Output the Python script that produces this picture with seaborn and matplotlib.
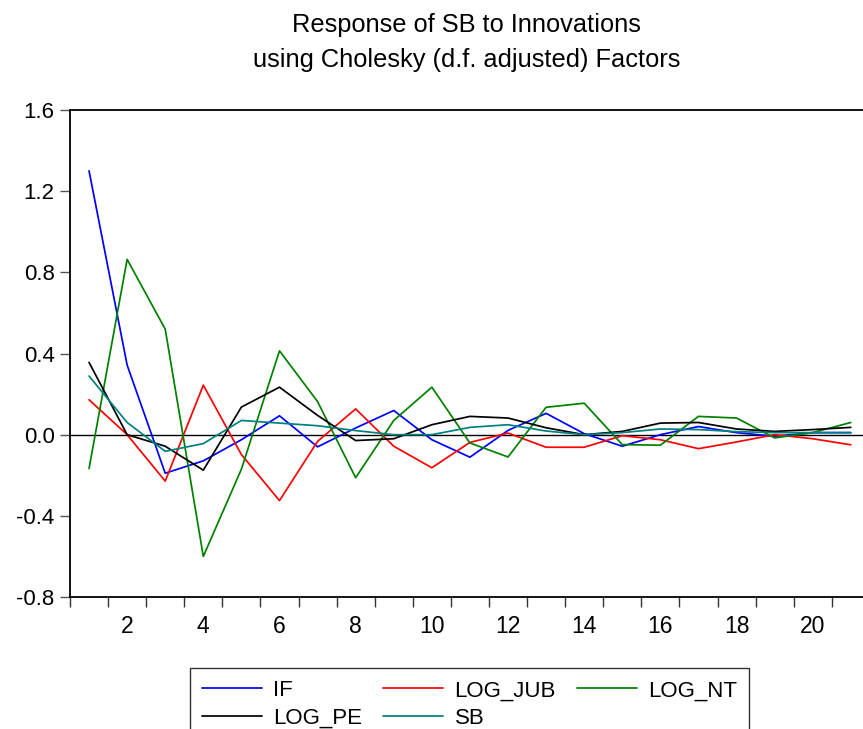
import matplotlib
matplotlib.use("Agg")
import matplotlib.pyplot as plt
import seaborn as sns
import pandas as pd
from matplotlib.lines import Line2D

periods = list(range(1, 22))
if_vals = [1.30, 0.343, -0.19, -0.129, -0.025, 0.093, -0.06, 0.033, 0.119, -0.025,
           -0.111, 0.021, 0.105, 0.005, -0.057, 0.0, 0.04, 0.01, -0.008, 0.01, 0.01]
log_jub = [0.172, 0.0, -0.229, 0.244, -0.098, -0.325, -0.033, 0.127, -0.057, -0.163,
           -0.038, 0.008, -0.062, -0.062, -0.005, -0.025, -0.069, -0.036, 0.0, -0.02, -0.05]
log_nt = [-0.167, 0.864, 0.52, -0.60, -0.17, 0.413, 0.163, -0.212, 0.07, 0.234,
          -0.041, -0.11, 0.135, 0.155, -0.049, -0.052, 0.09, 0.082, -0.016, 0.01, 0.06]
log_pe = [0.356, 0.0, -0.057, -0.175, 0.136, 0.234, 0.095, -0.029, -0.02, 0.049,
          0.09, 0.082, 0.034, 0.0, 0.016, 0.057, 0.06, 0.028, 0.016, 0.025, 0.036]
sb = [0.289, 0.06, -0.082, -0.044, 0.07, 0.057, 0.044, 0.02, 0.0, 0.0,
      0.036, 0.049, 0.018, 0.0, 0.01, 0.028, 0.025, 0.015, 0.01, 0.01, 0.01]

series_names = ["IF", "LOG_JUB", "LOG_NT", "LOG_PE", "SB"]
series_vals = [if_vals, log_jub, log_nt, log_pe, sb]
colors = {"IF": "#0000FF", "LOG_JUB": "#FF0000", "LOG_NT": "#008000",
          "LOG_PE": "#000000", "SB": "#008080"}
y_ticks = [-0.8, -0.4, 0.0, 0.4, 0.8, 1.2, 1.6]
x_labels = [2, 4, 6, 8, 10, 12, 14, 16, 18, 20]
title_lines = ["Response of SB to Innovations",
               "using Cholesky (d.f. adjusted) Factors"]

rows = []
for name, vals in zip(series_names, series_vals):
    for p, v in zip(periods, vals):
        rows.append({"period": p, "value": v, "series": name})
df = pd.DataFrame(rows)

sns.set_theme(style="white")
plt.rcParams["font.family"] = ["Liberation Sans", "DejaVu Sans"]
plt.rcParams["axes.unicode_minus"] = False
plt.rcParams["text.color"] = "black"
plt.rcParams["xtick.labelcolor"] = "black"
plt.rcParams["ytick.labelcolor"] = "black"

fig = plt.figure(figsize=(8.63, 7.29), dpi=100)
ax = fig.add_axes([70 / 863, 1 - 597 / 729, 1 - 70 / 863, (597 - 110) / 729])

ax.axhline(0, color="black", lw=1.0, zorder=1)
sns.lineplot(data=df, x="period", y="value", hue="series", palette=colors,
             hue_order=series_names, linewidth=1.25, ax=ax, legend=False, zorder=2)

ax.set_xlim(0.5, 21.32)
ax.set_ylim(-0.8, 1.6)
ax.set_xlabel("")
ax.set_ylabel("")

ax.set_yticks(y_ticks)
ax.set_yticklabels([f"{t:.1f}" for t in y_ticks])
ax.set_xticks([i + 0.5 for i in range(0, 21)])
ax.set_xticklabels([])
ax.set_xticks(x_labels, minor=True)
ax.set_xticklabels([str(v) for v in x_labels], minor=True)

ax.tick_params(axis="y", which="major", direction="out", length=7, width=1,
               color="#555555", pad=4, labelsize=16, left=True, labelcolor="black")
ax.tick_params(axis="x", which="major", direction="out", length=7, width=1,
               color="#333333", bottom=True)
ax.tick_params(axis="x", which="minor", length=0, pad=13, labelsize=16.5,
               bottom=True, labelcolor="black")

for s in ["left", "bottom", "top"]:
    ax.spines[s].set_visible(True)
    ax.spines[s].set_color("black")
    ax.spines[s].set_linewidth(1.3)
ax.spines["right"].set_visible(False)

cx = (70 + 863) / 2 / 863
fig.text(cx, 1 - 32 / 729, title_lines[0], ha="center", va="baseline",
         fontsize=18.3, color="black")
fig.text(cx, 1 - 67 / 729, title_lines[1], ha="center", va="baseline",
         fontsize=18.3, color="black")

order = ["IF", "LOG_PE", "LOG_JUB", "SB", "LOG_NT"]
handles = [Line2D([0], [0], color=colors[n], lw=1.25) for n in order]
leg = fig.legend(handles, order, loc="upper left",
                 bbox_to_anchor=(190 / 863, 1 - 668 / 729), ncol=3,
                 fontsize=16, frameon=True, fancybox=False, handlelength=2.7,
                 handletextpad=0.5, columnspacing=0.95, borderpad=0.55,
                 labelspacing=0.3, borderaxespad=0, labelcolor="black")
leg.get_frame().set_edgecolor("black")
leg.get_frame().set_linewidth(1.0)

fig.savefig("out.png", dpi=100)
